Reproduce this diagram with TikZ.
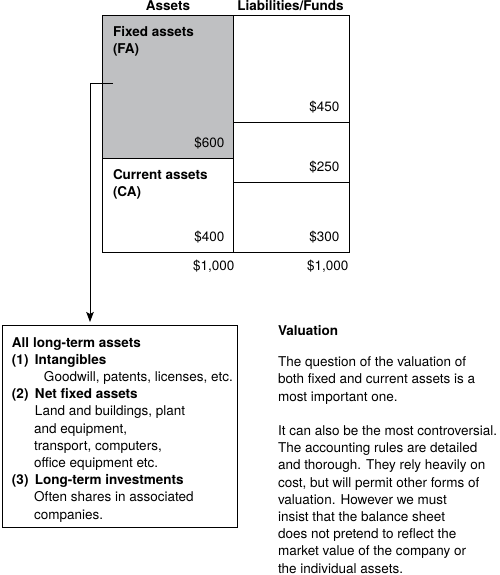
\documentclass[tikz,border=0pt]{standalone}
\usepackage{fontspec}
\setmainfont{TeX Gyre Heros}
\usetikzlibrary{arrows.meta}
\definecolor{fagray}{RGB}{191,192,194}
\begin{document}
\begin{tikzpicture}[x=1pt,y=-1pt,
  cell/.style={draw=black,line width=1pt,inner sep=0pt,outer sep=0pt,anchor=north west},
  txt/.style={inner sep=0pt,outer sep=0pt,font=\fontsize{13.5}{17.2}\selectfont},
  lbl/.style={txt,anchor=base west},
  val/.style={txt,anchor=base east},
  para/.style={txt,anchor=base west,align=left},
  conn/.style={line width=1pt,-{Stealth[length=10pt,width=7.5pt,inset=2pt]}}]
\useasboundingbox (0,0) rectangle (500,575);
% headers
\node[txt,anchor=base] (hA) at (168,10.5) {\textbf{Assets}};
\node[txt,anchor=base] (hL) at (290.5,10.5) {\textbf{Liabilities/Funds}};
% cells
\node[cell,fill=fagray,minimum width=131pt,minimum height=142pt] (fa) at (102,16) {};
\node[cell,minimum width=131pt,minimum height=94pt] (ca) at (102,158) {};
\node[cell,minimum width=116pt,minimum height=107pt] (l1) at (233,16) {};
\node[cell,minimum width=116pt,minimum height=59pt] (l2) at (233,123) {};
\node[cell,minimum width=116pt,minimum height=70pt] (l3) at (233,182) {};
% cell texts (base anchor of a multi-line node = last line)
\node[para] (faT) at (113,53.9) {\textbf{Fixed assets}\\\textbf{(FA)}};
\node[val] (v600) at (224.5,147.5) {\$600};
\node[para] (caT) at (113,196.2) {\textbf{Current assets}\\\textbf{(CA)}};
\node[val] (v400) at (224.5,241.7) {\$400};
\node[val] (v450) at (339.5,111) {\$450};
\node[val] (v250) at (339.5,171.7) {\$250};
\node[val] (v300) at (339.5,241.7) {\$300};
\node[val] (t1) at (234.5,270) {\$1,000};
\node[val] (t2) at (348.5,270) {\$1,000};
% long-term box
\node[cell,minimum width=235pt,minimum height=202pt] (lbox) at (2,325) {};
\node[para] (lboxT) at (12,519) {\textbf{All long-term assets}\\
\makebox[23pt][l]{\textbf{(1)}}\textbf{Intangibles}\\
\hspace*{32pt}Goodwill, patents, licenses, etc.\\
\makebox[23pt][l]{\textbf{(2)}}\textbf{Net fixed assets}\\
\hspace*{23pt}Land and buildings, plant\\
\hspace*{22pt}and equipment,\\
\hspace*{22pt}transport, computers,\\
\hspace*{22pt}office equipment etc.\\
\makebox[23pt][l]{\textbf{(3)}}\textbf{Long-term investments}\\
\hspace*{22pt}Often shares in associated\\
\hspace*{22pt}companies.};
% connector
\coordinate (src) at (113,84);
\coordinate (dst) at (90,322);
\draw[conn] (src) -| (dst);
% valuation text
\node[lbl] (valH) at (278,335) {\textbf{Valuation}};
\node[para] (valT) at (278,573) {The question of the valuation of\\
both fixed and current assets is a\\
most important one.\\[17.2pt]
It can also be the most controversial.\\
The accounting rules are detailed\\
and thorough. They rely heavily on\\
cost, but will permit other forms of\\
valuation. However we must\\
insist that the balance sheet\\
does not pretend to reflect the\\
market value of the company or\\
the individual assets.};
\end{tikzpicture}
\end{document}
